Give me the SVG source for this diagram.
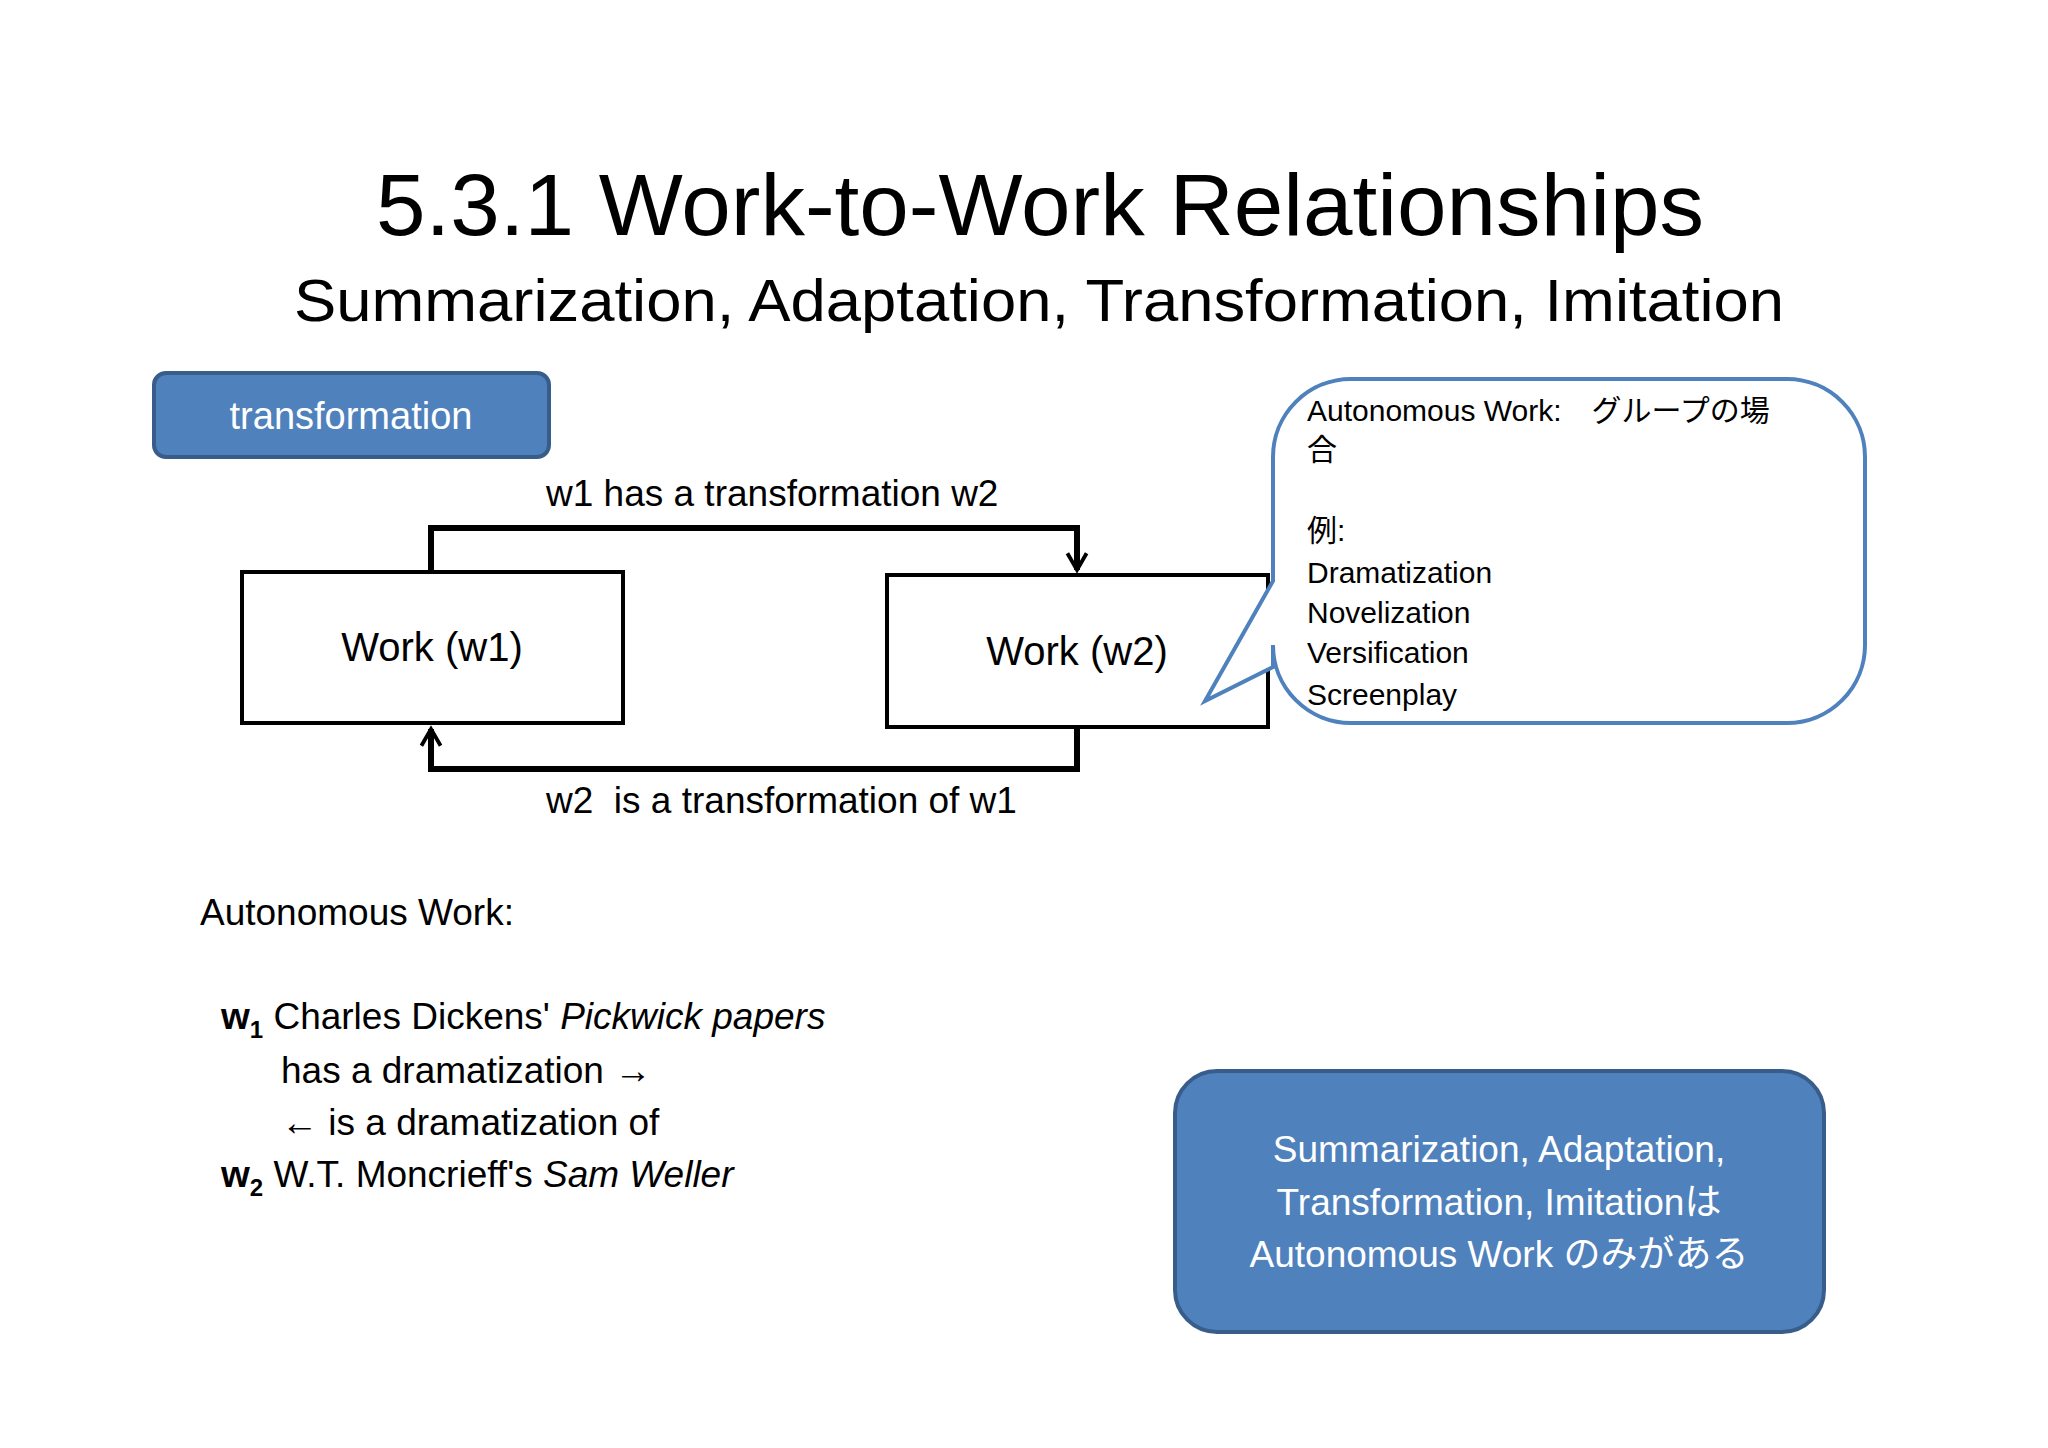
<svg xmlns="http://www.w3.org/2000/svg" width="2048" height="1448" viewBox="0 0 2048 1448">
<style>
text{font-family:"Liberation Sans","Noto Sans CJK JP",sans-serif;fill:#000}
.w{fill:#fff}
.box{fill:#fff;stroke:#000;stroke-width:4}
.blue{fill:#4f81bd;stroke:#385d8a;stroke-width:4}
.con{fill:none;stroke:#000;stroke-width:6}
</style>
<defs>
<marker id="ah" viewBox="0 0 10 10" refX="8" refY="5" markerWidth="4" markerHeight="4" orient="auto" markerUnits="strokeWidth">
<path d="M1,1 L8,5 L1,9" fill="none" stroke="#000" stroke-width="1.6"/>
</marker>
</defs>
<rect width="2048" height="1448" fill="#fff"/>
<text x="1040" y="235" font-size="88" text-anchor="middle" textLength="1328" lengthAdjust="spacingAndGlyphs">5.3.1 Work-to-Work Relationships</text>
<text x="1039" y="321" font-size="60" text-anchor="middle" textLength="1490" lengthAdjust="spacingAndGlyphs">Summarization, Adaptation, Transformation, Imitation</text>
<g id="transformation">
<rect class="blue" x="154" y="373" width="395" height="84" rx="12"/>
<text class="w" x="351" y="429" font-size="38" text-anchor="middle">transformation</text>
</g>
<g id="w1">
<rect class="box" x="242" y="572" width="381" height="151"/>
<text x="432" y="661" font-size="40" text-anchor="middle">Work (w1)</text>
</g>
<g id="w2">
<rect class="box" x="887" y="575" width="381" height="152"/>
<text x="1077" y="665" font-size="40" text-anchor="middle">Work (w2)</text>
</g>
<g id="connectors">
<path class="con" d="M431,572 V528 H1077 V570" marker-end="url(#ah)"/>
<path class="con" d="M1077,727 V769 H431 V729" marker-end="url(#ah)"/>
<text x="546" y="506" font-size="37">w1 has a transformation w2</text>
<text x="546" y="813" font-size="37" xml:space="preserve">w2  is a transformation of w1</text>
</g>
<g id="callout">
<path d="M1351,379 H1787 A78,78 0 0 1 1865,457 V645 A78,78 0 0 1 1787,723 H1351 A78,78 0 0 1 1273,645 V667 L1205,701 L1273,581 V457 A78,78 0 0 1 1351,379 Z" fill="#fff" stroke="#4f81bd" stroke-width="4"/>
<g font-size="30">
<text x="1307" y="421">Autonomous Work:　グループの場</text>
<text x="1307" y="460">合</text>
<text x="1307" y="541">例:</text>
<text x="1307" y="583">Dramatization</text>
<text x="1307" y="623">Novelization</text>
<text x="1307" y="663">Versification</text>
<text x="1307" y="705">Screenplay</text>
</g>
</g>
<g id="example" font-size="37">
<text x="200" y="925">Autonomous Work:</text>
<text x="221" y="1029"><tspan font-weight="bold">w</tspan><tspan font-weight="bold" font-size="24" dy="9">1</tspan><tspan dy="-9"> Charles Dickens' </tspan><tspan font-style="italic">Pickwick papers</tspan></text>
<text x="281" y="1083">has a dramatization →</text>
<text x="281" y="1135">← is a dramatization of</text>
<text x="221" y="1187"><tspan font-weight="bold">w</tspan><tspan font-weight="bold" font-size="24" dy="9">2</tspan><tspan dy="-9"> W.T. Moncrieff's </tspan><tspan font-style="italic">Sam Weller</tspan></text>
</g>
<g id="summary">
<rect class="blue" x="1175" y="1071" width="649" height="261" rx="42"/>
<g font-size="37" text-anchor="middle">
<text class="w" x="1499" y="1162">Summarization, Adaptation,</text>
<text class="w" x="1499" y="1215">Transformation, Imitationは</text>
<text class="w" x="1499" y="1267">Autonomous Work のみがある</text>
</g>
</g>
</svg>
